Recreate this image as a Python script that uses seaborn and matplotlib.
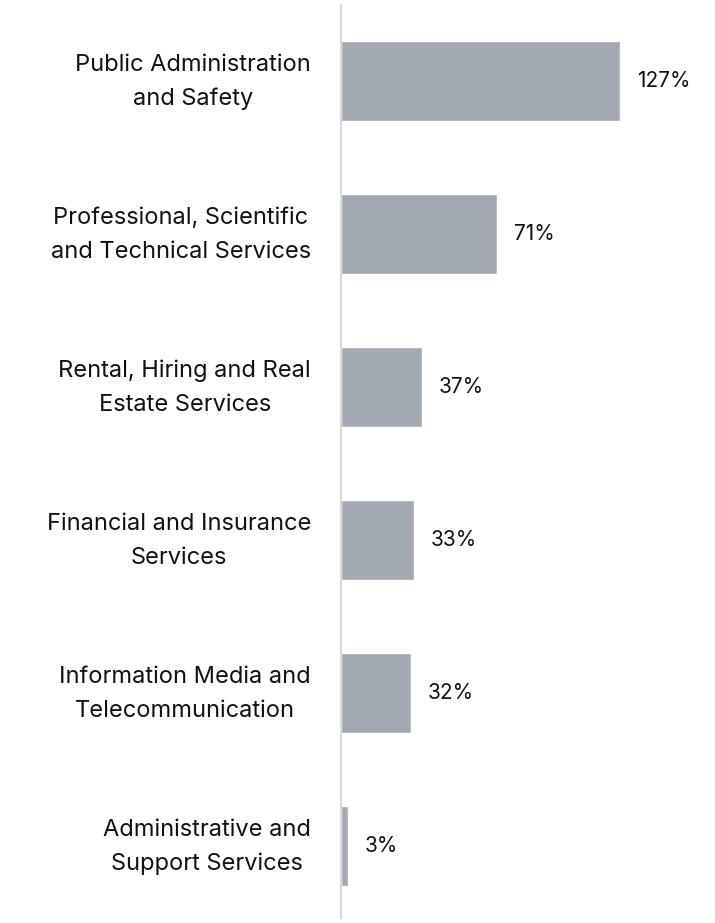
import matplotlib
matplotlib.use("Agg")
import matplotlib.pyplot as plt
import matplotlib.transforms as mtransforms
import seaborn as sns
import pandas as pd

industries = [
    "Public Administration\nand Safety",
    "Professional, Scientific\nand Technical Services",
    "Rental, Hiring and Real\nEstate Services",
    "Financial and Insurance\nServices",
    "Information Media and\nTelecommunication",
    "Administrative and\nSupport Services",
]
growth_pct = [127, 71, 37, 33, 32, 3]

df = pd.DataFrame({"industry": industries, "growth": growth_pct})

sns.set_theme(style="white")
plt.rcParams["font.family"] = ["Inter", "DejaVu Sans"]

W, H = 715, 923
fig = plt.figure(figsize=(W / 100, H / 100), dpi=100)
ax = fig.add_axes([341 / W, 5 / H, (W - 341) / W, (918 - 5) / H])

sns.barplot(data=df, x="growth", y="industry", orient="h",
            color="#a3a9b3", saturation=1, width=0.523, ax=ax)

ax.set_xlim(0, (W - 341) / 2.2)
ax.set_ylim(5.47, -0.497)

for spine in ["top", "right", "bottom"]:
    ax.spines[spine].set_visible(False)
ax.spines["left"].set_color("#d9d9d9")
ax.spines["left"].set_linewidth(1.5)

ax.set_xticks([])
ax.set_xlabel("")
ax.set_ylabel("")
ax.tick_params(axis="y", length=0, labelleft=False)

# category labels, centred text block right-aligned against the axis
label_tf = ax.get_yaxis_transform() + mtransforms.ScaledTranslation(
    -30 / 100, -1 / 100, fig.dpi_scale_trans)
for i, name in enumerate(industries):
    ax.text(0, i, name, transform=label_tf, ha="right", va="center",
            multialignment="center", fontsize=17, color="#111111",
            linespacing=1.7)

for i, v in enumerate(growth_pct):
    ax.annotate(f"{v}%", xy=(v, i), xytext=(12, 0), textcoords="offset points",
                ha="left", va="center", fontsize=15, color="#111111")

fig.savefig("out.png", dpi=100)
